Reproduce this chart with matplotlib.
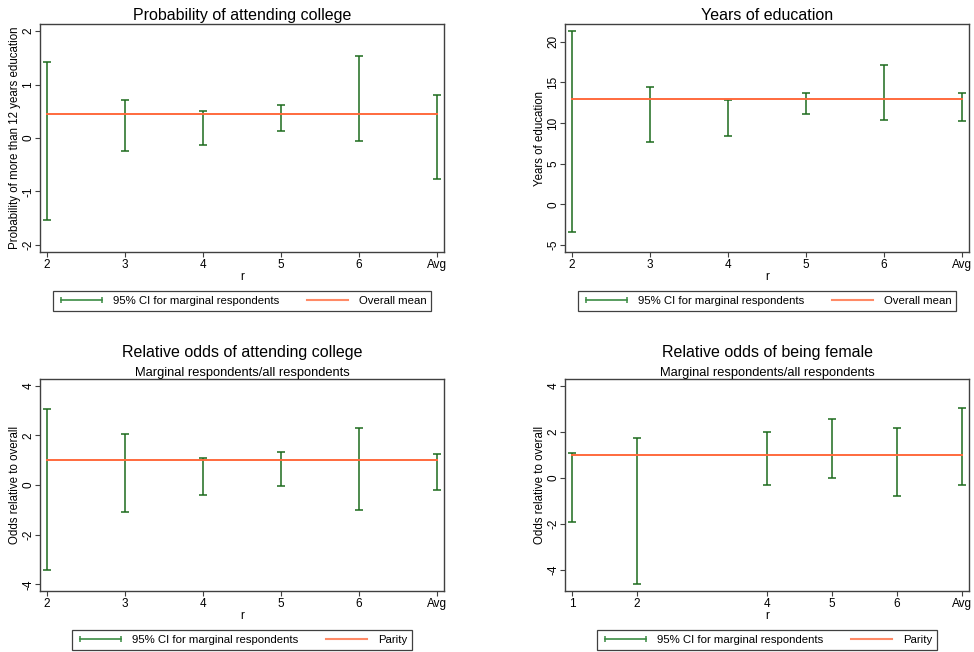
import matplotlib
matplotlib.use("Agg")
import matplotlib.pyplot as plt
from matplotlib.lines import Line2D
from matplotlib.transforms import offset_copy
import numpy as np

plt.rcParams['font.family'] = ['Liberation Sans', 'DejaVu Sans']

# ---- data ----
r_main = [2, 3, 4, 5, 6, 7]
r_main_labels = ['2', '3', '4', '5', '6', 'Avg']
r_female = [1, 2, 4, 5, 6, 7]
r_female_labels = ['1', '2', '4', '5', '6', 'Avg']

college_lo = [-1.54, -0.25, -0.13, 0.14, -0.06, -0.77]
college_hi = [1.43, 0.72, 0.51, 0.61, 1.53, 0.80]
college_mean = 0.447

educ_lo = [-3.4, 7.6, 8.4, 11.1, 10.4, 10.3]
educ_hi = [21.3, 14.4, 12.8, 13.7, 17.1, 13.7]
educ_mean = 13.0

odds_college_lo = [-3.43, -1.08, -0.41, -0.03, -0.99, -0.22]
odds_college_hi = [3.04, 2.06, 1.10, 1.32, 2.31, 1.23]

odds_female_lo = [-1.94, -4.64, -0.33, 0.00, -0.80, -0.33]
odds_female_hi = [1.09, 1.72, 1.97, 2.55, 2.14, 3.02]
parity = 1.0

GREEN = '#1c6b1c'
LEG_GREEN = '#3c8c44'
ORANGE = '#ff6a3d'
LEG_ORANGE = '#ff8a66'
FRAME = '#404040'


def draw_panel(ax, x, xlabels, lo, hi, ref, ref_label, yticks, ylabel,
               title, subtitle=None):
    lo = np.array(lo)
    hi = np.array(hi)
    mid = (lo + hi) / 2
    ax.errorbar(x, mid, yerr=[mid - lo, hi - mid], fmt='none',
                ecolor=GREEN, elinewidth=1.1, capsize=3, capthick=1.1,
                zorder=2)
    ax.plot([x[0], x[-1]], [ref, ref], color=ORANGE, lw=1.4, zorder=3)

    # Stata-style range: ticks plus data, padded a little
    ymin = min(yticks[0], lo.min())
    ymax = max(yticks[-1], hi.max())
    pad = 0.033 * (ymax - ymin)
    ax.set_ylim(ymin - pad, ymax + pad)
    ax.set_yticks(yticks)
    ax.set_yticklabels([str(t) for t in yticks], rotation=90, va='center')
    ax.set_xticks(x)
    ax.set_xticklabels(xlabels)
    ax.margins(x=0.018)

    ax.tick_params(axis='both', labelsize=8.5, length=3.5, width=0.8,
                   color=FRAME, pad=1.5)
    ax.tick_params(axis='y', pad=0.5)
    for s in ax.spines.values():
        s.set_color(FRAME)
        s.set_linewidth(1.0)
    ax.set_xlabel('r', fontsize=8.5, labelpad=0)
    ax.set_ylabel(ylabel, fontsize=8.3, labelpad=1)

    if subtitle is None:
        ax.set_title(title, fontsize=11.5, pad=3)
    else:
        ax.set_title(subtitle, fontsize=9.3, pad=2)
        ax.annotate(title, xy=(0.5, 1), xycoords='axes fraction',
                    xytext=(0, 14), textcoords='offset points',
                    ha='center', va='bottom', fontsize=11.5)

    handles = [
        Line2D([], [], color=LEG_GREEN, lw=1.2, marker='|', markersize=5,
               markeredgewidth=1.1),
        Line2D([], [], color=LEG_ORANGE, lw=1.5),
    ]
    trans = offset_copy(ax.transAxes, fig=ax.figure, x=0, y=-33, units='dots')
    leg = ax.legend(handles, ['95% CI for marginal respondents', ref_label],
                    loc='upper center', bbox_to_anchor=(0.5, 0),
                    bbox_transform=trans, ncol=2, numpoints=2,
                    fontsize=8.2, handlelength=4.2, handletextpad=0.6,
                    columnspacing=2.2, borderpad=0.45, fancybox=False,
                    framealpha=1)
    leg.get_frame().set_edgecolor(FRAME)
    leg.get_frame().set_linewidth(0.9)


fig = plt.figure(figsize=(9.74, 6.52), dpi=100)
W, H = 974, 652
ax_w, top_h, bot_h = 404, 228, 212
ax1 = fig.add_axes([40 / W, 1 - 252 / H, ax_w / W, top_h / H])
ax2 = fig.add_axes([565 / W, 1 - 252 / H, ax_w / W, top_h / H])
ax3 = fig.add_axes([40 / W, 1 - 591 / H, ax_w / W, bot_h / H])
ax4 = fig.add_axes([565 / W, 1 - 591 / H, ax_w / W, bot_h / H])

draw_panel(ax1, r_main, r_main_labels, college_lo, college_hi, college_mean,
           'Overall mean', [-2, -1, 0, 1, 2],
           'Probability of more than 12 years education',
           'Probability of attending college')
draw_panel(ax2, r_main, r_main_labels, educ_lo, educ_hi, educ_mean,
           'Overall mean', [-5, 0, 5, 10, 15, 20],
           'Years of education', 'Years of education')
draw_panel(ax3, r_main, r_main_labels, odds_college_lo, odds_college_hi,
           parity, 'Parity', [-4, -2, 0, 2, 4],
           'Odds relative to overall', 'Relative odds of attending college',
           subtitle='Marginal respondents/all respondents')
draw_panel(ax4, r_female, r_female_labels, odds_female_lo, odds_female_hi,
           parity, 'Parity', [-4, -2, 0, 2, 4],
           'Odds relative to overall', 'Relative odds of being female',
           subtitle='Marginal respondents/all respondents')

fig.savefig('out.png', dpi=100)
